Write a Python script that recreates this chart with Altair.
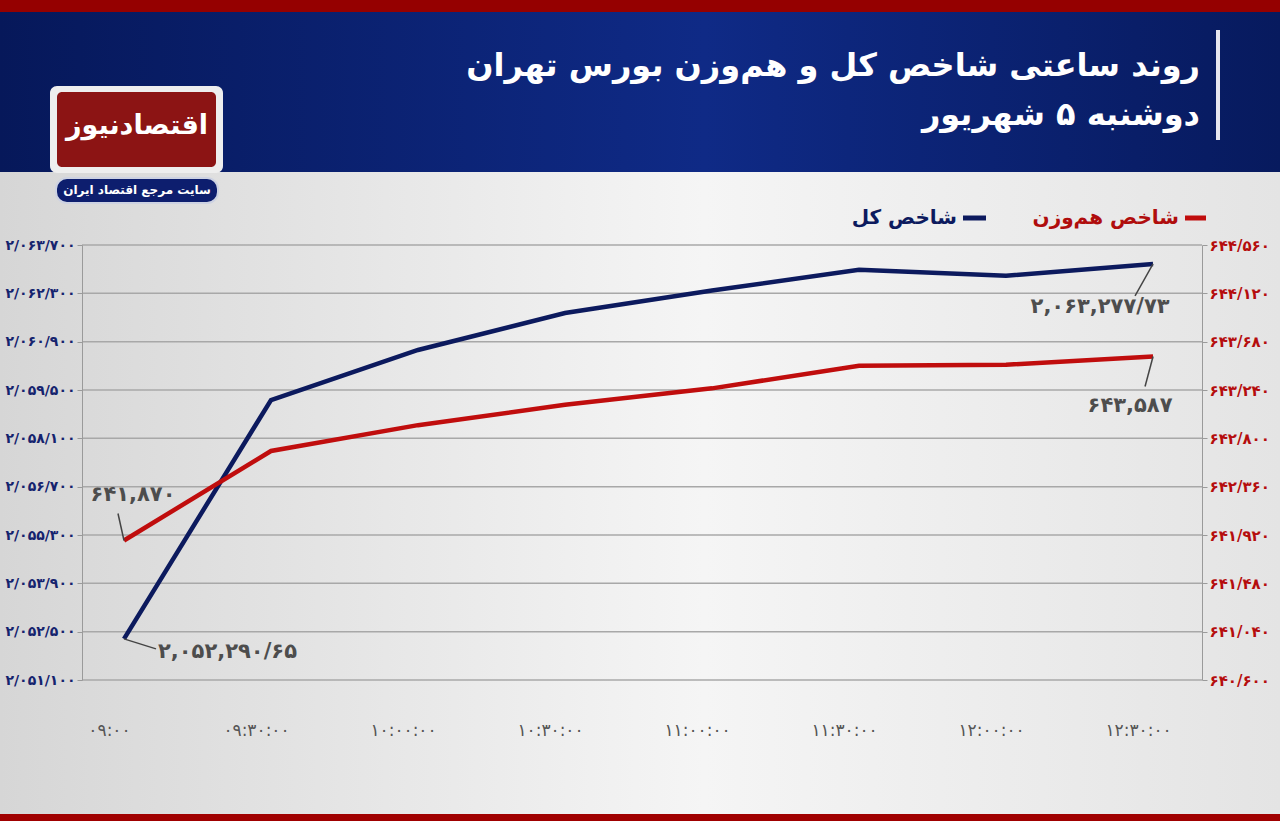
import altair as alt
import pandas as pd

# ---------------- data ----------------
times = ["۰۹:۰۰", "۰۹:۳۰:۰۰", "۱۰:۰۰:۰۰", "۱۰:۳۰:۰۰",
         "۱۱:۰۰:۰۰", "۱۱:۳۰:۰۰", "۱۲:۰۰:۰۰", "۱۲:۳۰:۰۰"]
total_index = [2052290.65, 2059210, 2060660, 2061730,
               2062380, 2062980, 2062810, 2063150]
equal_weight = [641870, 642685, 642920, 643105,
                643255, 643460, 643470, 643545]

left_ticks = [2051100, 2052500, 2053900, 2055300, 2056700,
              2058100, 2059500, 2060900, 2062300, 2063700]
right_ticks = [640600, 641040, 641480, 641920, 642360,
               642800, 643240, 643680, 644120, 644560]

total_ann_text = ["۲,۰۵۲,۲۹۰/۶۵", "۲,۰۶۳,۲۷۷/۷۳"]
equal_ann_text = ["۶۴۱,۸۷۰", "۶۴۳,۵۸۷"]

title_1 = "روند ساعتی شاخص کل و هم‌وزن بورس تهران"
title_2 = "دوشنبه ۵ شهریور"
legend_equal = "شاخص هم‌وزن"
legend_total = "شاخص کل"
logo_text = "اقتصادنیوز"
logo_sub = "سایت مرجع اقتصاد ایران"

# ---------------- styling ----------------
FONT = "DejaVu Sans"
NAVY = "#0c1a5e"
RED = "#c00d0d"
GRID = "#a8a8a8"
PL, PT = 82, 245          # plot-area origin on the page
W, H = 1120, 435

df = pd.DataFrame({"i": list(range(len(times))), "t": times,
                   "total": total_index, "equal": equal_weight})
one = pd.DataFrame({"k": [0]})
grid_df = pd.DataFrame({"v": left_ticks})

persian = "۰۱۲۳۴۵۶۷۸۹"


def fa_expr(inner):
    s = inner
    for d in range(10):
        s = f"replace({s}, regexp('{d}', 'g'), '{persian[d]}')"
    return s


num_label = fa_expr("replace(format(datum.value, ','), regexp(',', 'g'), '/')")
time_label = "[" + ",".join(f"'{t}'" for t in times) + "][datum.value]"

x_enc = alt.X("i:Q",
              scale=alt.Scale(domain=[-0.2857, 7.333], nice=False, zero=False),
              axis=alt.Axis(values=list(range(len(times))), labelExpr=time_label,
                            grid=False, domain=False, ticks=False, title=None,
                            labelFont=FONT, labelFontSize=17, labelColor="#555555",
                            labelPadding=42, labelOffset=-15, zindex=1))


def y_left(field):
    return alt.Y(field,
                 scale=alt.Scale(domain=[left_ticks[0], left_ticks[-1]], nice=False, zero=False),
                 axis=alt.Axis(orient="left", values=left_ticks, labelExpr=num_label,
                               grid=False, title=None, domainColor="#9a9a9a",
                               tickColor="#9a9a9a", tickSize=5, labelPadding=2,
                               labelFont=FONT, labelFontSize=14, labelFontWeight="bold",
                               labelColor="#15236e", zindex=1))


def y_right(field):
    return alt.Y(field,
                 scale=alt.Scale(domain=[right_ticks[0], right_ticks[-1]], nice=False, zero=False),
                 axis=alt.Axis(orient="right", values=right_ticks, labelExpr=num_label,
                               grid=False, title=None, domainColor="#9a9a9a",
                               tickColor="#9a9a9a", tickSize=5, labelPadding=2,
                               labelFont=FONT, labelFontSize=15, labelFontWeight="bold",
                               labelColor="#b50d0d", zindex=1))


def px(v):
    return alt.value(v - PL)


def py(v):
    return alt.value(v - PT)


# ---------------- decorations ----------------
bg = alt.Chart(one).mark_rect(
    color=alt.LinearGradient(gradient="linear", x1=0, x2=1, y1=0, y2=0,
                             stops=[alt.GradientStop(color="#d6d6d6", offset=0),
                                    alt.GradientStop(color="#f5f5f5", offset=0.55),
                                    alt.GradientStop(color="#e4e4e4", offset=1)])
).encode(x=px(0), x2=px(1280), y=py(0), y2=py(821))

header = alt.Chart(one).mark_rect(
    color=alt.LinearGradient(gradient="linear", x1=0, x2=1, y1=0, y2=0,
                             stops=[alt.GradientStop(color="#06185a", offset=0),
                                    alt.GradientStop(color="#0f2a86", offset=0.55),
                                    alt.GradientStop(color="#071a5e", offset=1)])
).encode(x=px(0), x2=px(1280), y=py(12), y2=py(172))

top_strip = alt.Chart(one).mark_rect(color="#950000").encode(
    x=px(0), x2=px(1280), y=py(0), y2=py(12))
bottom_strip = alt.Chart(one).mark_rect(color="#a00000").encode(
    x=px(0), x2=px(1280), y=py(814), y2=py(821))
vbar = alt.Chart(one).mark_rect(color="#e6e6ee").encode(
    x=px(1216), x2=px(1220), y=py(30), y2=py(140))

t1 = alt.Chart(one).mark_text(font=FONT, fontSize=32, fontWeight="bold", color="white",
                              align="right", baseline="middle").encode(
    x=px(1200), y=py(66), text=alt.value(title_1))
t2 = alt.Chart(one).mark_text(font=FONT, fontSize=32, fontWeight="bold", color="white",
                              align="right", baseline="middle").encode(
    x=px(1200), y=py(115), text=alt.value(title_2))

logo_outer = alt.Chart(one).mark_rect(color="#eeeeee", cornerRadius=7).encode(
    x=px(50), x2=px(223), y=py(86), y2=py(173))
logo_inner = alt.Chart(one).mark_rect(color="#8c1414", cornerRadius=5).encode(
    x=px(57), x2=px(216), y=py(92), y2=py(167))
logo_t = alt.Chart(one).mark_text(font=FONT, fontSize=27, fontWeight="bold", color="white",
                                  align="center", baseline="middle").encode(
    x=px(137), y=py(126), text=alt.value(logo_text))
pill = alt.Chart(one).mark_rect(color="#0d1e6e", stroke="#cdd2e2", strokeWidth=2,
                                cornerRadius=11).encode(
    x=px(56), x2=px(218), y=py(178), y2=py(203))
pill_t = alt.Chart(one).mark_text(font=FONT, fontSize=12, fontWeight="bold", color="white",
                                  align="center", baseline="middle").encode(
    x=px(137), y=py(190), text=alt.value(logo_sub))

leg_red_dash = alt.Chart(one).mark_rule(color=RED, strokeWidth=5).encode(
    x=px(1185), x2=px(1206), y=py(218))
leg_red_t = alt.Chart(one).mark_text(font=FONT, fontSize=20, fontWeight="bold", color="#b00d0d",
                                     align="right", baseline="middle").encode(
    x=px(1179), y=py(218), text=alt.value(legend_equal))
leg_navy_dash = alt.Chart(one).mark_rule(color=NAVY, strokeWidth=5).encode(
    x=px(963), x2=px(986), y=py(218))
leg_navy_t = alt.Chart(one).mark_text(font=FONT, fontSize=20, fontWeight="bold", color=NAVY,
                                      align="right", baseline="middle").encode(
    x=px(957), y=py(218), text=alt.value(legend_total))

decor = alt.layer(bg, header, top_strip, bottom_strip, vbar, t1, t2,
                  logo_outer, logo_inner, logo_t, pill, pill_t,
                  leg_red_dash, leg_red_t, leg_navy_dash, leg_navy_t)

# ---------------- data layers ----------------
grid = alt.Chart(grid_df).mark_rule(color=GRID, strokeWidth=1.5).encode(
    y=y_left("v:Q"), x=alt.value(0), x2=alt.value(W))

line_total = alt.Chart(df).mark_line(color=NAVY, strokeWidth=4.5).encode(
    x=x_enc, y=y_left("total:Q"))
line_equal = alt.Chart(df).mark_line(color=RED, strokeWidth=4.5).encode(
    x=x_enc, y=y_right("equal:Q"))


def annotate(field, yfn, idx, label, dx, dy, align, lx, ly):
    base = alt.Chart(df).transform_filter(alt.datum.i == idx)
    leader = base.mark_rule(color="#444444", strokeWidth=1.5,
                            x2Offset=lx, y2Offset=ly).encode(
        x=x_enc, y=yfn(field + ":Q"), x2=alt.X2("i"), y2=alt.Y2(field))
    txt = base.mark_text(font=FONT, fontSize=21, fontWeight="bold", color="#4d4d4d",
                         align=align, baseline="middle", dx=dx, dy=dy).encode(
        x=x_enc, y=yfn(field + ":Q"), text=alt.value(label))
    return [leader, txt]


last = len(times) - 1
left_layers = [grid, line_total]
left_layers += annotate("total", y_left, 0, total_ann_text[0], 34, 13, "left", 32, 10)
left_layers += annotate("total", y_left, last, total_ann_text[1], -53, 43, "center", -18, 32)

right_layers = [line_equal]
right_layers += annotate("equal", y_right, 0, equal_ann_text[0], 9, -45, "center", -6, -27)
right_layers += annotate("equal", y_right, last, equal_ann_text[1], -23, 50, "center", -8, 30)

chart = alt.layer(decor, alt.layer(*left_layers), alt.layer(*right_layers)).resolve_scale(
    y="independent"
).properties(
    width=W, height=H,
    padding={"left": PL, "top": PT, "right": 1280 - PL - W, "bottom": 821 - PT - H},
    autosize=alt.AutoSizeParams(type="none"),
).configure_view(stroke=None).configure(background="#e8e8e8")

chart.save("out.html", embed_options={"renderer": "svg", "actions": False})
